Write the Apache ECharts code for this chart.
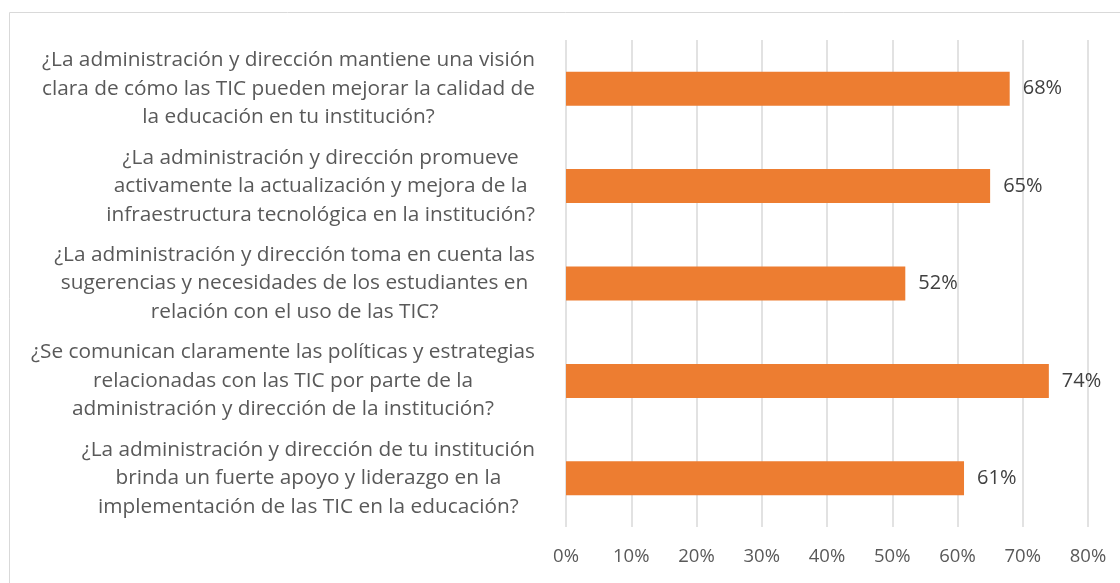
<!DOCTYPE html>
<html>
<head>
<meta charset="utf-8">
<script src="https://cdn.jsdelivr.net/npm/echarts@6/dist/echarts.min.js"></script>
<style>
  html, body { margin: 0; padding: 0; background: #fff; }
  #chart { width: 1120px; height: 583px; }
</style>
</head>
<body>
<div id="chart"></div>
<script>
/* ---------- data ---------- */
const questions = [
  '¿La administración y dirección mantiene una visión\nclara de cómo las TIC pueden mejorar la calidad de\nla educación en tu institución?',
  '¿La administración y dirección promueve\nactivamente la actualización y mejora de la\ninfraestructura tecnológica en la institución?',
  '¿La administración y dirección toma en cuenta las\nsugerencias y necesidades de los estudiantes en\nrelación con el uso de las TIC?',
  '¿Se comunican claramente las políticas y estrategias\nrelacionadas con las TIC por parte de la\nadministración y dirección de la institución?',
  '¿La administración y dirección de tu institución\nbrinda un fuerte apoyo y liderazgo en la\nimplementación de las TIC en la educación?'
];
const percents = [68, 65, 52, 74, 61];
const xTicks = [0, 10, 20, 30, 40, 50, 60, 70, 80];

const FONT = 'Open Sans';
const chart = echarts.init(document.getElementById('chart'));

chart.setOption({
  animation: false,
  textStyle: { fontFamily: FONT },
  graphic: [{
    type: 'rect',
    silent: true,
    shape: { x: 9.5, y: 12.5, width: 1200, height: 700 },
    style: { fill: 'none', stroke: '#d9d9d9', lineWidth: 1 }
  }],
  grid: { left: 566, right: 32, top: 40, bottom: 56 },
  xAxis: {
    type: 'value',
    min: xTicks[0],
    max: xTicks[xTicks.length - 1],
    interval: 10,
    axisLine: { show: false },
    axisTick: { show: false },
    splitLine: { lineStyle: { color: '#d9d9d9', width: 1.5 } },
    axisLabel: {
      formatter: v => v + '%',
      color: '#595959',
      fontFamily: FONT,
      fontSize: 18.5,
      margin: 20
    }
  },
  yAxis: {
    type: 'category',
    inverse: true,
    data: questions,
    axisLine: { show: false },
    axisTick: { show: false },
    axisLabel: {
      align: 'right',
      margin: 31,
      color: '#595959',
      fontFamily: FONT,
      fontSize: 20.8,
      formatter: v => v.split('\n').map(l => '{c|' + l + '}').join('\n'),
      rich: {
        c: { align: 'center', color: '#595959', fontFamily: FONT, fontSize: 20.8, lineHeight: 28.5 }
      }
    }
  },
  series: [{
    type: 'bar',
    data: percents,
    barWidth: 34,
    itemStyle: { color: '#ED7D31' },
    label: {
      show: true,
      position: 'right',
      distance: 13,
      formatter: p => p.value + '%',
      color: '#404040',
      fontFamily: FONT,
      fontSize: 20
    }
  }]
});
</script>
</body>
</html>
